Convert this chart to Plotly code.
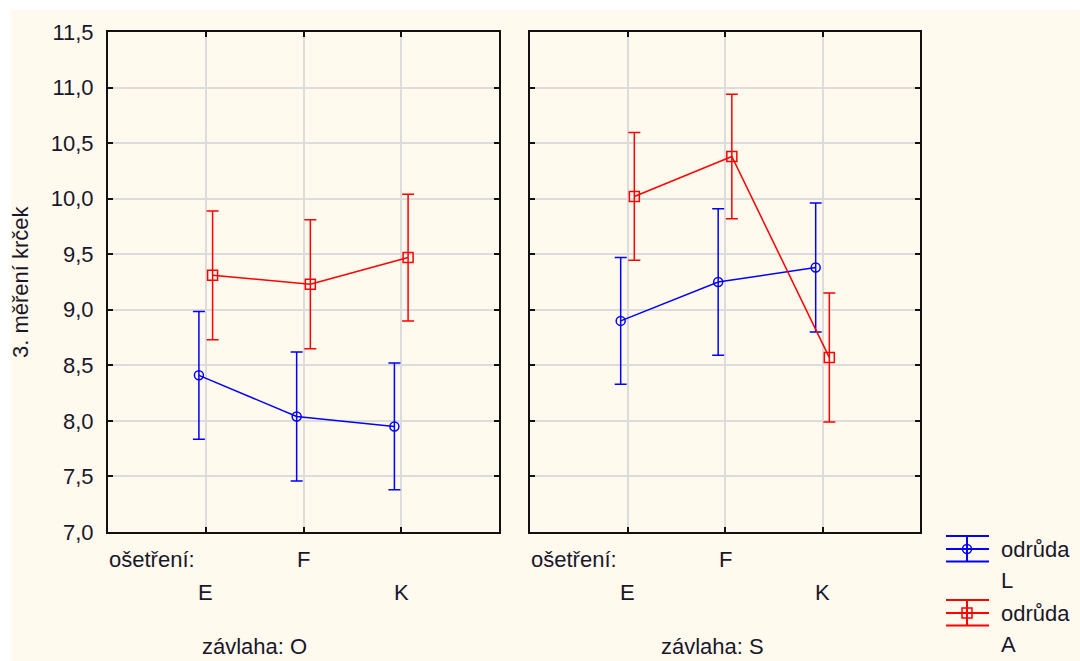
import plotly.graph_objects as go

# Treatment levels (ošetření) and irrigation panels (závlaha)
treatments = ["E", "F", "K"]
irrigation = ["O", "S"]

# Mean stem measurement ("3. měření krček") per variety, with confidence half-widths
L_O_mean = [8.41, 8.04, 7.95]
L_O_err = [0.575, 0.58, 0.57]
A_O_mean = [9.31, 9.23, 9.47]
A_O_err = [0.58, 0.58, 0.57]

L_S_mean = [8.90, 9.25, 9.38]
L_S_err = [0.57, 0.66, 0.58]
A_S_mean = [10.02, 10.38, 8.57]
A_S_err = [0.575, 0.56, 0.58]

y_ticks = [7.0, 7.5, 8.0, 8.5, 9.0, 9.5, 10.0, 10.5, 11.0, 11.5]

W, H = 1080, 661
FONT = "Arial, Liberation Sans, sans-serif"
FS = 22
TXT = "#18182a"
BLUE = "#0000ff"
RED = "#ff0000"
CREAM = "#fff9ee"
GRID = "#dcdcdc"


def px(x, y):
    return x / W, 1 - y / H


pos = [i + 1 for i in range(len(treatments))]
shift = 0.07

fig = go.Figure()


def add_series(mean, err, color, symbol, size, dx, xa, ya):
    fig.add_trace(go.Scatter(
        x=[p + dx for p in pos], y=mean,
        mode="lines+markers",
        line=dict(color=color, width=1.5),
        marker=dict(symbol=symbol, size=size, color=color,
                    line=dict(color=color, width=1.5)),
        error_y=dict(type="data", array=err, visible=True,
                     color=color, thickness=1.5, width=6),
        xaxis=xa, yaxis=ya, showlegend=False, hoverinfo="skip",
    ))


add_series(L_O_mean, L_O_err, BLUE, "circle-open", 9, -shift, "x", "y")
add_series(A_O_mean, A_O_err, RED, "square-open", 10, shift, "x", "y")
add_series(L_S_mean, L_S_err, BLUE, "circle-open", 9, -shift, "x2", "y2")
add_series(A_S_mean, A_S_err, RED, "square-open", 10, shift, "x2", "y2")

y0 = 1 - 532 / H
y1 = 1 - 32 / H

xaxis_common = dict(
    range=[0, 4], tickvals=pos, showticklabels=False,
    showgrid=True, gridcolor=GRID, gridwidth=1.5,
    ticks="inside", ticklen=5, tickwidth=1.5, tickcolor="#111111",
    showline=True, linecolor="#111111", linewidth=2, mirror="ticks",
    zeroline=False, fixedrange=True, automargin=False,
)
yaxis_common = dict(
    range=[7.0, 11.5], tickvals=y_ticks, tickformat=".1f",
    showgrid=True, gridcolor=GRID, gridwidth=1.5,
    ticks="inside", ticklen=5, tickwidth=1.5, tickcolor="#111111",
    showline=True, linecolor="#111111", linewidth=2, mirror="ticks",
    zeroline=False, fixedrange=True, domain=[y0, y1], automargin=False,
    tickfont=dict(family=FONT, size=FS, color=TXT),
)

fig.update_layout(
    width=W, height=H, autosize=False,
    margin=dict(l=0, r=0, t=0, b=0, pad=0),
    paper_bgcolor="white", plot_bgcolor="white",
    separators=", ",
    showlegend=False,
    font=dict(family=FONT, size=FS, color=TXT),
    xaxis=dict(domain=[108 / W, 499 / W], anchor="y", **xaxis_common),
    xaxis2=dict(domain=[530 / W, 920 / W], anchor="y2", **xaxis_common),
    yaxis=dict(anchor="x", ticklabelstandoff=8, **yaxis_common),
    yaxis2=dict(anchor="x2", showticklabels=False, **yaxis_common),
)

shapes = []
# cream background with a thin white border on top and left
cx0, cy1 = px(11, 10)
shapes.append(dict(type="rect", xref="paper", yref="paper", layer="below",
                   x0=cx0, x1=1, y0=0, y1=cy1, fillcolor=CREAM, line_width=0))

annotations = []


def note(text, x, y, xanchor="center", xref="paper", angle=0):
    annotations.append(dict(text=text, x=x, y=y, xref=xref, yref="paper",
                            xanchor=xanchor, yanchor="middle", showarrow=False,
                            textangle=angle, borderpad=0,
                            font=dict(family=FONT, size=FS, color=TXT)))


# y-axis title
note("3. měření krček", 21 / W, 1 - 282 / H, angle=-90)

# staggered category labels and panel captions
for xa, left_px, cap_px, level in [("x", 108, 254, irrigation[0]),
                                    ("x2", 530, 712, irrigation[1])]:
    note("ošetření:", left_px / W, 1 - 559 / H, xanchor="left")
    for p, t in zip(pos, treatments):
        row_y = 559 if p % 2 == 0 else 592
        note(t, p, 1 - row_y / H, xref=xa)
    note("závlaha: " + level, cap_px / W, 1 - 646 / H)

# legend: error-bar glyph with marker, followed by the variety name
legend_items = [("odrůda", "L", BLUE, "circle", 549),
                ("odrůda", "A", RED, "square", 613)]
for label, name, color, kind, cy in legend_items:
    top, bot = cy - 13, cy + 12.5
    for yy in (top, cy, bot):
        xa0, ya = px(946, yy)
        xa1, _ = px(989, yy)
        shapes.append(dict(type="line", xref="paper", yref="paper",
                           x0=xa0, x1=xa1, y0=ya, y1=ya,
                           line=dict(color=color, width=2)))
    vx, vy0 = px(967, top)
    _, vy1 = px(967, bot)
    shapes.append(dict(type="line", xref="paper", yref="paper",
                       x0=vx, x1=vx, y0=vy0, y1=vy1,
                       line=dict(color=color, width=2)))
    r = 4.5 if kind == "circle" else 5
    mx0, my0 = px(967 - r, cy - r)
    mx1, my1 = px(967 + r, cy + r)
    shapes.append(dict(type="circle" if kind == "circle" else "rect",
                       xref="paper", yref="paper",
                       x0=mx0, x1=mx1, y0=my1, y1=my0,
                       line=dict(color=color, width=1.5)))
    note(label, 1000 / W, 1 - cy / H, xanchor="left")
    note(name, 1000 / W, 1 - (cy + 31) / H, xanchor="left")

fig.update_layout(shapes=shapes, annotations=annotations)

fig.write_html("out.html")
